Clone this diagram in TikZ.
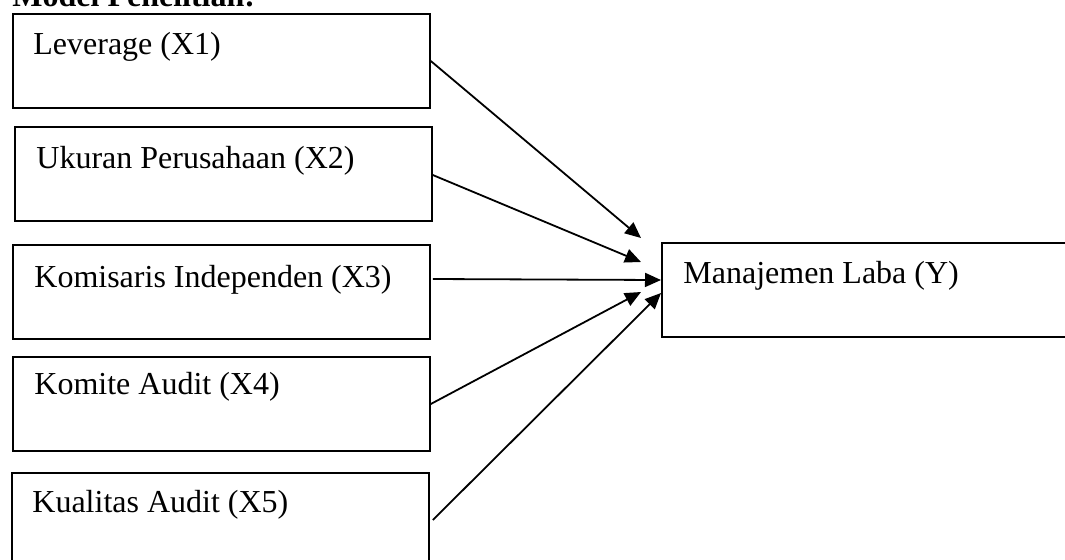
\documentclass[tikz,border=0pt]{standalone}
\usepackage{fontspec}
\setmainfont{Liberation Serif}
\usetikzlibrary{arrows.meta}
\begin{document}
\begin{tikzpicture}[x=0.5pt,y=-0.5pt,
  box/.style={draw,line width=0.9pt,rectangle,minimum width=208.5pt,minimum height=47pt,anchor=north west,inner sep=0pt},
  lbl/.style={anchor=base west,inner sep=0pt,font=\fontsize{16}{19}\selectfont},
  arr/.style={line width=0.9pt,-{Triangle[length=8pt,width=7pt]}}]
\useasboundingbox (0,0) rectangle (1065,559);
\clip (0,0) rectangle (1065,559);
\node[anchor=base west,inner sep=0pt,font=\fontsize{16}{19}\selectfont\bfseries] (title) at (12,6) {Model Penelitian:};
\node[box] (b1) at (12,13) {};
\node[box] (b2) at (14,126) {};
\node[box] (b3) at (12,244) {};
\node[box] (b4) at (12,356) {};
\node[box,minimum height=60pt] (b5) at (11,472) {};
\node[box,minimum width=210pt] (y) at (661,242) {};
\node[lbl] (t1) at (33,54) {Leverage (X1)};
\node[lbl] (t2) at (36,168) {Ukuran Perusahaan (X2)};
\node[lbl] (t3) at (34,287) {Komisaris Independen (X3)};
\node[lbl] (t4) at (34,394) {Komite Audit (X4)};
\node[lbl] (t5) at (32,512) {Kualitas Audit (X5)};
\node[lbl] (ty) at (683,283) {Manajemen Laba (Y)};
\coordinate (e1) at ([xshift=-10pt,yshift=2pt]y.north west);
\coordinate (e2) at ([xshift=-10pt,yshift=-10pt]y.north west);
\coordinate (e3) at ([yshift=-19pt]y.north west);
\coordinate (e4) at ([xshift=-10pt,yshift=-25pt]y.north west);
\coordinate (e5) at ([yshift=-25.5pt]y.north west);
\draw[arr] ([yshift=-24pt]b1.north east) -- (e1);
\draw[arr] ([yshift=-24.5pt]b2.north east) -- (e2);
\draw[arr] ([xshift=1pt,yshift=-17.5pt]b3.north east) -- (e3);
\draw[arr] ([yshift=-24pt]b4.north east) -- (e4);
\draw[arr] ([xshift=1.5pt,yshift=-24pt]b5.north east) -- (e5);
\end{tikzpicture}
\end{document}
